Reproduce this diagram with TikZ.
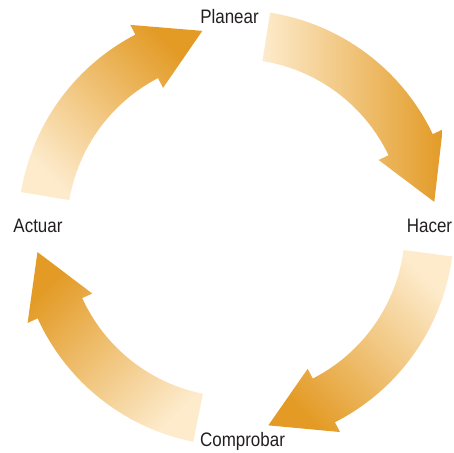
\documentclass[tikz,border=0pt]{standalone}
\usepackage{fontspec}
\setmainfont{Liberation Sans}[FakeStretch=0.87]
\definecolor{lite}{HTML}{FDEBCC}
\definecolor{dark}{HTML}{E39B26}
\definecolor{ink}{HTML}{231F20}
\newcommand\cycarrow[4]{%
  \shade[shading=axis, top color=lite, bottom color=dark, shading angle=#4]
    (#1:218pt) arc[start angle=#1, end angle=#2, radius=218pt]
    -- (#2:229pt) -- (#3:200pt) -- (#2:158pt) -- (#2:169pt)
    arc[start angle=#2, end angle=#1, radius=169pt] -- cycle;}
\tikzset{lbl/.style={anchor=base, inner sep=0pt, text=ink, font=\fontsize{19.5pt}{20pt}\selectfont}}
\begin{document}
\begin{tikzpicture}[x=1pt,y=1pt]
\useasboundingbox (0,0) rectangle (453,453);
\begin{scope}[shift={(236,225)}]
  \cycarrow{81}{25.5}{7.5}{90}
  \cycarrow{-7.5}{-63}{-80.7}{-45}
  \cycarrow{-101.3}{-155.5}{-173.1}{-135}
  \cycarrow{170.5}{117.5}{99.7}{135}
\end{scope}
\node[lbl] (planear) at (229.5,429.5) {Planear};
\node[lbl] (hacer) at (429.5,220) {Hacer};
\node[lbl] (actuar) at (38,220) {Actuar};
\node[lbl] (comprobar) at (242.5,6) {Comprobar};
\end{tikzpicture}
\end{document}
